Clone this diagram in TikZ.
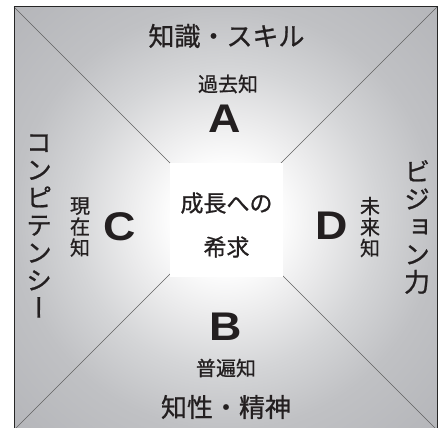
\documentclass[tikz,border=0pt]{standalone}
\usepackage{fontspec}
\newfontfamily\jp[FakeBold=0.8]{Noto Sans CJK JP}
\newfontfamily\jpv[RawFeature=+vert,FakeBold=0.8]{Noto Sans CJK JP}
\newfontfamily\lat{Liberation Sans}
\definecolor{txt}{RGB}{35,31,32}
\definecolor{gA}{RGB}{255,255,255}
\definecolor{gB}{RGB}{234,234,235}
\definecolor{gC}{RGB}{212,213,215}
\definecolor{gD}{RGB}{192,193,196}
\definecolor{gE}{RGB}{180,181,185}
\pgfdeclareradialshading{bgrad}{\pgfpoint{0bp}{0bp}}{%
  color(0bp)=(gA); color(6bp)=(gA); color(12bp)=(gB); color(18bp)=(gC);
  color(25bp)=(gD); color(36bp)=(gE); color(50bp)=(gE)}
\tikzset{
  big/.style={font=\jp\fontsize{26}{28}\selectfont, text=txt, inner sep=0pt},
  bigv/.style={font=\jpv\fontsize{26}{27.6}\selectfont, text=txt, inner sep=0pt, align=center},
  small/.style={font=\jp\fontsize{20}{22}\selectfont, text=txt, inner sep=0pt},
  smallv/.style={font=\jpv\fontsize{20}{21}\selectfont, text=txt, inner sep=0pt, align=center},
  letter/.style={font=\lat\bfseries\fontsize{40}{41}\selectfont, text=txt, inner sep=0pt},
  diag/.style={draw=black!62, line width=0.5pt}
}
\begin{document}
\begin{tikzpicture}[x=1pt,y=-1pt]
\useasboundingbox (0,0) rectangle (443,427);
\fill[white] (0,0) rectangle (443,427);
\coordinate (tl) at (14,7);
\coordinate (tr) at (437,7);
\coordinate (br) at (437,430);
\coordinate (bl) at (14,430);
\shade[shading=bgrad] (tl) rectangle (br);
\draw[diag] (tl) -- (br);
\draw[diag] (tr) -- (bl);
\draw[draw=black!85, line width=1pt] (tl) rectangle (br);
\node[fill=white, minimum width=113pt, minimum height=114pt, inner sep=0pt] (ctr) at (226.5,220) {};
\node[font=\jp\fontsize{23}{44}\selectfont, text=txt, align=center, inner sep=0pt] (ctrtxt) at (226.5,225) {成長への\\希求};
\node[big] (top) at (226.5,36) {知識・スキル};
\node[small] (past) at (228,84) {過去知};
\node[letter] (A) at (224.5,119) {\scalebox{1.12}[1]{A}};
\node[letter] (B) at (225.5,327) {\scalebox{1.12}[1]{B}};
\node[small] (univ) at (226,368) {普遍知};
\node[big] (bot) at (226,407) {知性・精神};
\node[bigv] (left) at (39,226) {コ\\ン\\ピ\\テ\\ン\\シ\\ー};
\node[smallv] (now) at (80,227) {現\\在\\知};
\node[letter] (C) at (120,227) {\scalebox{1.12}[1]{C}};
\node[letter] (D) at (332,226) {\scalebox{1.12}[1]{D}};
\node[smallv] (fut) at (370,227) {未\\来\\知};
\node[bigv] (right) at (417,227) {ビ\\ジ\\ョ\\ン\\力};
\end{tikzpicture}
\end{document}
